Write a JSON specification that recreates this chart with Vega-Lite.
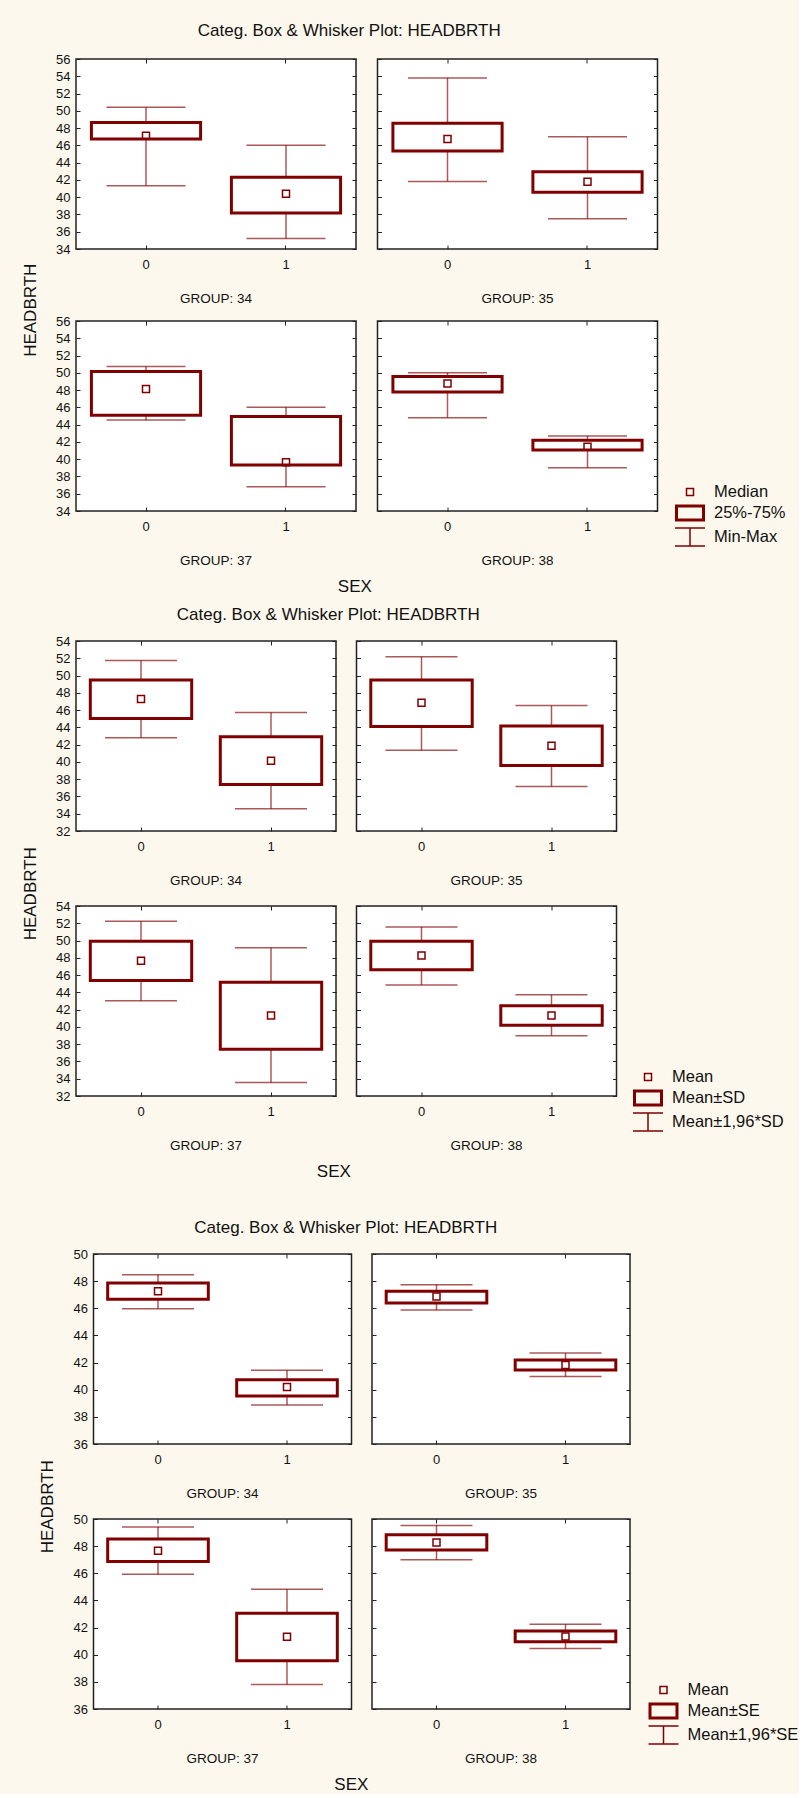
{
"$schema": "https://vega.github.io/schema/vega-lite/v6.json",
"background": "#fdf8ed",
"padding": {"left": 21, "top": 22, "right": 0, "bottom": 0},
"datasets": {
"minmax": [
{"GROUP": 34, "SEX": "0", "center": 47.1, "boxLow": 46.73, "boxHigh": 48.66, "low": 41.33, "high": 50.4},
{"GROUP": 34, "SEX": "1", "center": 40.4, "boxLow": 38.16, "boxHigh": 42.3, "low": 35.23, "high": 46.0},
{"GROUP": 35, "SEX": "0", "center": 46.73, "boxLow": 45.34, "boxHigh": 48.55, "low": 41.83, "high": 53.8},
{"GROUP": 35, "SEX": "1", "center": 41.8, "boxLow": 40.56, "boxHigh": 42.95, "low": 37.5, "high": 47.0},
{"GROUP": 37, "SEX": "0", "center": 48.12, "boxLow": 45.08, "boxHigh": 50.14, "low": 44.54, "high": 50.72},
{"GROUP": 37, "SEX": "1", "center": 39.64, "boxLow": 39.33, "boxHigh": 44.93, "low": 36.82, "high": 46.0},
{"GROUP": 38, "SEX": "0", "center": 48.75, "boxLow": 47.78, "boxHigh": 49.56, "low": 44.81, "high": 50.02},
{"GROUP": 38, "SEX": "1", "center": 41.45, "boxLow": 41.07, "boxHigh": 42.19, "low": 39.02, "high": 42.69}
],
"sd": [
{"GROUP": 34, "SEX": "0", "center": 47.27, "boxLow": 45.02, "boxHigh": 49.49, "low": 42.79, "high": 51.73},
{"GROUP": 34, "SEX": "1", "center": 40.13, "boxLow": 37.39, "boxHigh": 42.9, "low": 34.58, "high": 45.71},
{"GROUP": 35, "SEX": "0", "center": 46.85, "boxLow": 44.1, "boxHigh": 49.49, "low": 41.36, "high": 52.19},
{"GROUP": 35, "SEX": "1", "center": 41.88, "boxLow": 39.59, "boxHigh": 44.17, "low": 37.16, "high": 46.52},
{"GROUP": 37, "SEX": "0", "center": 47.67, "boxLow": 45.36, "boxHigh": 49.93, "low": 43.02, "high": 52.23},
{"GROUP": 37, "SEX": "1", "center": 41.33, "boxLow": 37.42, "boxHigh": 45.17, "low": 33.57, "high": 49.16},
{"GROUP": 38, "SEX": "0", "center": 48.28, "boxLow": 46.63, "boxHigh": 49.93, "low": 44.86, "high": 51.58},
{"GROUP": 38, "SEX": "1", "center": 41.33, "boxLow": 40.18, "boxHigh": 42.45, "low": 38.99, "high": 43.71}
],
"se": [
{"GROUP": 34, "SEX": "0", "center": 47.25, "boxLow": 46.66, "boxHigh": 47.86, "low": 45.97, "high": 48.48},
{"GROUP": 34, "SEX": "1", "center": 40.2, "boxLow": 39.54, "boxHigh": 40.74, "low": 38.87, "high": 41.43},
{"GROUP": 35, "SEX": "0", "center": 46.86, "boxLow": 46.39, "boxHigh": 47.25, "low": 45.87, "high": 47.74},
{"GROUP": 35, "SEX": "1", "center": 41.82, "boxLow": 41.45, "boxHigh": 42.19, "low": 40.98, "high": 42.7},
{"GROUP": 37, "SEX": "0", "center": 47.66, "boxLow": 46.87, "boxHigh": 48.52, "low": 45.93, "high": 49.41},
{"GROUP": 37, "SEX": "1", "center": 41.32, "boxLow": 39.55, "boxHigh": 43.05, "low": 37.8, "high": 44.82},
{"GROUP": 38, "SEX": "0", "center": 48.27, "boxLow": 47.71, "boxHigh": 48.84, "low": 46.99, "high": 49.53},
{"GROUP": 38, "SEX": "1", "center": 41.35, "boxLow": 40.96, "boxHigh": 41.74, "low": 40.46, "high": 42.24}
]
},
"config": {
"font": "Liberation Sans",
"view": {"fill": "white", "stroke": "#222", "strokeWidth": 1.5},
"axis": {"domain": false, "grid": false, "tickSize": -4, "tickColor": "#222", "tickWidth": 1, "labelFont": "Liberation Sans", "labelFontSize": 13, "labelColor": "#111"},
"axisLeft": {"labelPadding": 10, "grid": true, "gridColor": "#c4c4c4", "gridDash": [3, 2], "gridWidth": 1},
"axisRight": {"labels": false, "grid": false},
"axisTop": {"labels": false},
"axisBottom": {"labelPadding": 13, "labelAngle": 0},
"title": {"font": "Liberation Sans", "fontWeight": "normal", "color": "#111", "fontSize": 13.5, "orient": "bottom", "offset": 21},
"rule": {"stroke": "#800000", "strokeWidth": 1.5, "opacity": 0.65},
"tick": {"color": "#800000", "thickness": 1.5, "opacity": 0.65},
"bar": {"fill": "white", "stroke": "#800000", "strokeWidth": 3},
"point": {"shape": "M-0.35,-0.35H0.35V0.35H-0.35Z", "size": 400, "filled": false, "stroke": "#800000", "strokeWidth": 1.5, "opacity": 1},
"legend": {"labelFont": "Liberation Sans", "labelFontSize": 16.5, "labelColor": "#111", "symbolSize": 400, "labelOffset": 13, "rowPadding": 1, "padding": 0, "symbolStrokeColor": "#800000", "symbolStrokeWidth": 1.5, "symbolOpacity": 1}
},
"resolve": {"scale": {"shape": "independent"}, "legend": {"shape": "independent"}},
"columns": 1,
"align": "none",
"spacing": 38,
"concat": [
{
"spacing": 10,
"resolve": {"scale": {"shape": "independent"}, "legend": {"shape": "independent"}},
"vconcat": [
{
"title": {"text": "Categ. Box & Whisker Plot: HEADBRTH", "orient": "top", "anchor": "start", "dx": 176, "fontSize": 17, "offset": 12},
"resolve": {"scale": {"shape": "independent"}, "legend": {"shape": "independent"}},
"vconcat": [{
"title": {"text": "SEX", "orient": "bottom", "anchor": "start", "dx": 316, "fontSize": 17, "offset": 11},
"resolve": {"scale": {"shape": "independent"}, "legend": {"shape": "independent"}},
"vconcat": [{
"title": {"text": "HEADBRTH", "orient": "left", "anchor": "middle", "fontSize": 17, "offset": 15},
"resolve": {"scale": {"shape": "independent"}, "legend": {"shape": "independent"}},
"spacing": 7,
"vconcat": [
{"spacing": 17.5, "resolve": {"scale": {"shape": "independent"}, "legend": {"shape": "independent"}}, "hconcat": [
{"width": 280, "height": 190, "data": {"name": "minmax"}, "transform": [{"filter": "datum.GROUP == 34"}], "title": "GROUP: 34", "layer": [
{"mark": "rule", "encoding": {"x": {"field": "SEX", "type": "nominal", "scale": {"domain": ["0", "1"], "paddingInner": 0.22, "paddingOuter": 0.11}, "axis": {"orient": "top", "title": null}}, "y": {"field": "low", "type": "quantitative", "scale": {"domain": [34, 56], "nice": false, "zero": false}, "axis": {"orient": "right", "title": null, "values": [34,36,38,40,42,44,46,48,50,52,54,56]}}, "y2": {"field": "high"}}},
{"mark": {"type": "tick", "size": 79}, "encoding": {"x": {"field": "SEX", "type": "nominal", "axis": null}, "y": {"field": "low", "type": "quantitative", "axis": null}}},
{"mark": {"type": "tick", "size": 79}, "encoding": {"x": {"field": "SEX", "type": "nominal", "axis": null}, "y": {"field": "high", "type": "quantitative", "axis": null}}},
{"mark": "bar", "encoding": {"x": {"field": "SEX", "type": "nominal", "scale": {"domain": ["0", "1"], "paddingInner": 0.22, "paddingOuter": 0.11}, "axis": {"orient": "bottom", "title": null}}, "y": {"field": "boxLow", "type": "quantitative", "axis": {"orient": "left", "title": null, "values": [34,36,38,40,42,44,46,48,50,52,54,56], "labels": true}}, "y2": {"field": "boxHigh"}}},
{"mark": "point", "encoding": {"x": {"field": "SEX", "type": "nominal", "axis": null}, "y": {"field": "center", "type": "quantitative", "axis": null}}}
], "resolve": {"axis": {"x": "independent", "y": "independent"}}},
{"width": 280, "height": 190, "data": {"name": "minmax"}, "transform": [{"filter": "datum.GROUP == 35"}], "title": "GROUP: 35", "layer": [
{"mark": "rule", "encoding": {"x": {"field": "SEX", "type": "nominal", "scale": {"domain": ["0", "1"], "paddingInner": 0.22, "paddingOuter": 0.11}, "axis": {"orient": "top", "title": null}}, "y": {"field": "low", "type": "quantitative", "scale": {"domain": [34, 56], "nice": false, "zero": false}, "axis": {"orient": "right", "title": null, "values": [34,36,38,40,42,44,46,48,50,52,54,56]}}, "y2": {"field": "high"}}},
{"mark": {"type": "tick", "size": 79}, "encoding": {"x": {"field": "SEX", "type": "nominal", "axis": null}, "y": {"field": "low", "type": "quantitative", "axis": null}}},
{"mark": {"type": "tick", "size": 79}, "encoding": {"x": {"field": "SEX", "type": "nominal", "axis": null}, "y": {"field": "high", "type": "quantitative", "axis": null}}},
{"mark": "bar", "encoding": {"x": {"field": "SEX", "type": "nominal", "scale": {"domain": ["0", "1"], "paddingInner": 0.22, "paddingOuter": 0.11}, "axis": {"orient": "bottom", "title": null}}, "y": {"field": "boxLow", "type": "quantitative", "axis": {"orient": "left", "title": null, "values": [34,36,38,40,42,44,46,48,50,52,54,56], "labels": false}}, "y2": {"field": "boxHigh"}}},
{"mark": "point", "encoding": {"x": {"field": "SEX", "type": "nominal", "axis": null}, "y": {"field": "center", "type": "quantitative", "axis": null}}}
], "resolve": {"axis": {"x": "independent", "y": "independent"}}}
]},
{"spacing": 17.5, "hconcat": [
{"width": 280, "height": 190, "data": {"name": "minmax"}, "transform": [{"filter": "datum.GROUP == 37"}], "title": "GROUP: 37", "layer": [
{"mark": "rule", "encoding": {"x": {"field": "SEX", "type": "nominal", "scale": {"domain": ["0", "1"], "paddingInner": 0.22, "paddingOuter": 0.11}, "axis": {"orient": "top", "title": null}}, "y": {"field": "low", "type": "quantitative", "scale": {"domain": [34, 56], "nice": false, "zero": false}, "axis": {"orient": "right", "title": null, "values": [34,36,38,40,42,44,46,48,50,52,54,56]}}, "y2": {"field": "high"}}},
{"mark": {"type": "tick", "size": 79}, "encoding": {"x": {"field": "SEX", "type": "nominal", "axis": null}, "y": {"field": "low", "type": "quantitative", "axis": null}}},
{"mark": {"type": "tick", "size": 79}, "encoding": {"x": {"field": "SEX", "type": "nominal", "axis": null}, "y": {"field": "high", "type": "quantitative", "axis": null}}},
{"mark": "bar", "encoding": {"x": {"field": "SEX", "type": "nominal", "scale": {"domain": ["0", "1"], "paddingInner": 0.22, "paddingOuter": 0.11}, "axis": {"orient": "bottom", "title": null}}, "y": {"field": "boxLow", "type": "quantitative", "axis": {"orient": "left", "title": null, "values": [34,36,38,40,42,44,46,48,50,52,54,56], "labels": true}}, "y2": {"field": "boxHigh"}}},
{"mark": "point", "encoding": {"x": {"field": "SEX", "type": "nominal", "axis": null}, "y": {"field": "center", "type": "quantitative", "axis": null}}}
], "resolve": {"axis": {"x": "independent", "y": "independent"}}},
{"width": 280, "height": 190, "data": {"name": "minmax"}, "transform": [{"filter": "datum.GROUP == 38"}], "title": "GROUP: 38", "layer": [
{"mark": "rule", "encoding": {"x": {"field": "SEX", "type": "nominal", "scale": {"domain": ["0", "1"], "paddingInner": 0.22, "paddingOuter": 0.11}, "axis": {"orient": "top", "title": null}}, "y": {"field": "low", "type": "quantitative", "scale": {"domain": [34, 56], "nice": false, "zero": false}, "axis": {"orient": "right", "title": null, "values": [34,36,38,40,42,44,46,48,50,52,54,56]}}, "y2": {"field": "high"}}},
{"mark": {"type": "tick", "size": 79}, "encoding": {"x": {"field": "SEX", "type": "nominal", "axis": null}, "y": {"field": "low", "type": "quantitative", "axis": null}}},
{"mark": {"type": "tick", "size": 79}, "encoding": {"x": {"field": "SEX", "type": "nominal", "axis": null}, "y": {"field": "high", "type": "quantitative", "axis": null}}},
{"mark": "bar", "encoding": {"x": {"field": "SEX", "type": "nominal", "scale": {"domain": ["0", "1"], "paddingInner": 0.22, "paddingOuter": 0.11}, "axis": {"orient": "bottom", "title": null}}, "y": {"field": "boxLow", "type": "quantitative", "axis": {"orient": "left", "title": null, "values": [34,36,38,40,42,44,46,48,50,52,54,56], "labels": false}}, "y2": {"field": "boxHigh"}}},
{"mark": "point", "encoding": {"x": {"field": "SEX", "type": "nominal", "axis": null}, "y": {"field": "center", "type": "quantitative", "axis": null}, "shape": {"datum": "Median", "scale": {"domain": ["Median", "25%-75%", "Min-Max"], "range": ["M-0.35,-0.35H0.35V0.35H-0.35Z", "M-1.425,-0.775H1.425V0.775H-1.425ZM-1.375,-0.725H1.375V0.725H-1.375ZM-1.325,-0.675H1.325V0.675H-1.325ZM-1.275,-0.625H1.275V0.625H-1.275Z", "M-1.5,-0.9H1.5M0,-0.9V0.9M-1.5,0.9H1.5"]}, "legend": {"title": null, "orient": "none", "legendX": 603, "legendY": 160}}}}
], "resolve": {"axis": {"x": "independent", "y": "independent"}}}
]}
]
}]
}]
},
{
"title": {"text": "Categ. Box & Whisker Plot: HEADBRTH", "orient": "top", "anchor": "start", "dx": 155, "fontSize": 17, "offset": 10},
"resolve": {"scale": {"shape": "independent"}, "legend": {"shape": "independent"}},
"vconcat": [{
"title": {"text": "SEX", "orient": "bottom", "anchor": "start", "dx": 295, "fontSize": 17, "offset": 11},
"resolve": {"scale": {"shape": "independent"}, "legend": {"shape": "independent"}},
"vconcat": [{
"title": {"text": "HEADBRTH", "orient": "left", "anchor": "middle", "fontSize": 17, "offset": 15},
"resolve": {"scale": {"shape": "independent"}, "legend": {"shape": "independent"}},
"spacing": 10,
"vconcat": [
{"spacing": 16.5, "resolve": {"scale": {"shape": "independent"}, "legend": {"shape": "independent"}}, "hconcat": [
{"width": 260, "height": 190, "data": {"name": "sd"}, "transform": [{"filter": "datum.GROUP == 34"}], "title": "GROUP: 34", "layer": [
{"mark": "rule", "encoding": {"x": {"field": "SEX", "type": "nominal", "scale": {"domain": ["0", "1"], "paddingInner": 0.22, "paddingOuter": 0.11}, "axis": {"orient": "top", "title": null}}, "y": {"field": "low", "type": "quantitative", "scale": {"domain": [32, 54], "nice": false, "zero": false}, "axis": {"orient": "right", "title": null, "values": [32,34,36,38,40,42,44,46,48,50,52,54]}}, "y2": {"field": "high"}}},
{"mark": {"type": "tick", "size": 72}, "encoding": {"x": {"field": "SEX", "type": "nominal", "axis": null}, "y": {"field": "low", "type": "quantitative", "axis": null}}},
{"mark": {"type": "tick", "size": 72}, "encoding": {"x": {"field": "SEX", "type": "nominal", "axis": null}, "y": {"field": "high", "type": "quantitative", "axis": null}}},
{"mark": "bar", "encoding": {"x": {"field": "SEX", "type": "nominal", "scale": {"domain": ["0", "1"], "paddingInner": 0.22, "paddingOuter": 0.11}, "axis": {"orient": "bottom", "title": null}}, "y": {"field": "boxLow", "type": "quantitative", "axis": {"orient": "left", "title": null, "values": [32,34,36,38,40,42,44,46,48,50,52,54], "labels": true}}, "y2": {"field": "boxHigh"}}},
{"mark": "point", "encoding": {"x": {"field": "SEX", "type": "nominal", "axis": null}, "y": {"field": "center", "type": "quantitative", "axis": null}}}
], "resolve": {"axis": {"x": "independent", "y": "independent"}}},
{"width": 260, "height": 190, "data": {"name": "sd"}, "transform": [{"filter": "datum.GROUP == 35"}], "title": "GROUP: 35", "layer": [
{"mark": "rule", "encoding": {"x": {"field": "SEX", "type": "nominal", "scale": {"domain": ["0", "1"], "paddingInner": 0.22, "paddingOuter": 0.11}, "axis": {"orient": "top", "title": null}}, "y": {"field": "low", "type": "quantitative", "scale": {"domain": [32, 54], "nice": false, "zero": false}, "axis": {"orient": "right", "title": null, "values": [32,34,36,38,40,42,44,46,48,50,52,54]}}, "y2": {"field": "high"}}},
{"mark": {"type": "tick", "size": 72}, "encoding": {"x": {"field": "SEX", "type": "nominal", "axis": null}, "y": {"field": "low", "type": "quantitative", "axis": null}}},
{"mark": {"type": "tick", "size": 72}, "encoding": {"x": {"field": "SEX", "type": "nominal", "axis": null}, "y": {"field": "high", "type": "quantitative", "axis": null}}},
{"mark": "bar", "encoding": {"x": {"field": "SEX", "type": "nominal", "scale": {"domain": ["0", "1"], "paddingInner": 0.22, "paddingOuter": 0.11}, "axis": {"orient": "bottom", "title": null}}, "y": {"field": "boxLow", "type": "quantitative", "axis": {"orient": "left", "title": null, "values": [32,34,36,38,40,42,44,46,48,50,52,54], "labels": false}}, "y2": {"field": "boxHigh"}}},
{"mark": "point", "encoding": {"x": {"field": "SEX", "type": "nominal", "axis": null}, "y": {"field": "center", "type": "quantitative", "axis": null}}}
], "resolve": {"axis": {"x": "independent", "y": "independent"}}}
]},
{"spacing": 16.5, "hconcat": [
{"width": 260, "height": 190, "data": {"name": "sd"}, "transform": [{"filter": "datum.GROUP == 37"}], "title": "GROUP: 37", "layer": [
{"mark": "rule", "encoding": {"x": {"field": "SEX", "type": "nominal", "scale": {"domain": ["0", "1"], "paddingInner": 0.22, "paddingOuter": 0.11}, "axis": {"orient": "top", "title": null}}, "y": {"field": "low", "type": "quantitative", "scale": {"domain": [32, 54], "nice": false, "zero": false}, "axis": {"orient": "right", "title": null, "values": [32,34,36,38,40,42,44,46,48,50,52,54]}}, "y2": {"field": "high"}}},
{"mark": {"type": "tick", "size": 72}, "encoding": {"x": {"field": "SEX", "type": "nominal", "axis": null}, "y": {"field": "low", "type": "quantitative", "axis": null}}},
{"mark": {"type": "tick", "size": 72}, "encoding": {"x": {"field": "SEX", "type": "nominal", "axis": null}, "y": {"field": "high", "type": "quantitative", "axis": null}}},
{"mark": "bar", "encoding": {"x": {"field": "SEX", "type": "nominal", "scale": {"domain": ["0", "1"], "paddingInner": 0.22, "paddingOuter": 0.11}, "axis": {"orient": "bottom", "title": null}}, "y": {"field": "boxLow", "type": "quantitative", "axis": {"orient": "left", "title": null, "values": [32,34,36,38,40,42,44,46,48,50,52,54], "labels": true}}, "y2": {"field": "boxHigh"}}},
{"mark": "point", "encoding": {"x": {"field": "SEX", "type": "nominal", "axis": null}, "y": {"field": "center", "type": "quantitative", "axis": null}}}
], "resolve": {"axis": {"x": "independent", "y": "independent"}}},
{"width": 260, "height": 190, "data": {"name": "sd"}, "transform": [{"filter": "datum.GROUP == 38"}], "title": "GROUP: 38", "layer": [
{"mark": "rule", "encoding": {"x": {"field": "SEX", "type": "nominal", "scale": {"domain": ["0", "1"], "paddingInner": 0.22, "paddingOuter": 0.11}, "axis": {"orient": "top", "title": null}}, "y": {"field": "low", "type": "quantitative", "scale": {"domain": [32, 54], "nice": false, "zero": false}, "axis": {"orient": "right", "title": null, "values": [32,34,36,38,40,42,44,46,48,50,52,54]}}, "y2": {"field": "high"}}},
{"mark": {"type": "tick", "size": 72}, "encoding": {"x": {"field": "SEX", "type": "nominal", "axis": null}, "y": {"field": "low", "type": "quantitative", "axis": null}}},
{"mark": {"type": "tick", "size": 72}, "encoding": {"x": {"field": "SEX", "type": "nominal", "axis": null}, "y": {"field": "high", "type": "quantitative", "axis": null}}},
{"mark": "bar", "encoding": {"x": {"field": "SEX", "type": "nominal", "scale": {"domain": ["0", "1"], "paddingInner": 0.22, "paddingOuter": 0.11}, "axis": {"orient": "bottom", "title": null}}, "y": {"field": "boxLow", "type": "quantitative", "axis": {"orient": "left", "title": null, "values": [32,34,36,38,40,42,44,46,48,50,52,54], "labels": false}}, "y2": {"field": "boxHigh"}}},
{"mark": "point", "encoding": {"x": {"field": "SEX", "type": "nominal", "axis": null}, "y": {"field": "center", "type": "quantitative", "axis": null}, "shape": {"datum": "Mean", "scale": {"domain": ["Mean", "Mean±SD", "Mean±1,96*SD"], "range": ["M-0.35,-0.35H0.35V0.35H-0.35Z", "M-1.425,-0.775H1.425V0.775H-1.425ZM-1.375,-0.725H1.375V0.725H-1.375ZM-1.325,-0.675H1.325V0.675H-1.325ZM-1.275,-0.625H1.275V0.625H-1.275Z", "M-1.5,-0.9H1.5M0,-0.9V0.9M-1.5,0.9H1.5"]}, "legend": {"title": null, "orient": "none", "legendX": 561, "legendY": 160}}}}
], "resolve": {"axis": {"x": "independent", "y": "independent"}}}
]}
]
}]
}]
}
]
},
{
"columns": 2,
"align": "none",
"spacing": -38.5,
"resolve": {"scale": {"shape": "independent"}, "legend": {"shape": "independent"}},
"concat": [
{"width": 1, "height": 1, "data": {"values": []}, "mark": "point", "encoding": {}, "view": {"stroke": null, "fill": null}},
{
"title": {"text": "Categ. Box & Whisker Plot: HEADBRTH", "orient": "top", "anchor": "start", "dx": 155, "fontSize": 17, "offset": 10},
"resolve": {"scale": {"shape": "independent"}, "legend": {"shape": "independent"}},
"vconcat": [{
"title": {"text": "SEX", "orient": "bottom", "anchor": "start", "dx": 295, "fontSize": 17, "offset": 11},
"resolve": {"scale": {"shape": "independent"}, "legend": {"shape": "independent"}},
"vconcat": [{
"title": {"text": "HEADBRTH", "orient": "left", "anchor": "middle", "fontSize": 17, "offset": 15},
"resolve": {"scale": {"shape": "independent"}, "legend": {"shape": "independent"}},
"spacing": 10,
"vconcat": [
{"spacing": 16.5, "resolve": {"scale": {"shape": "independent"}, "legend": {"shape": "independent"}}, "hconcat": [
{"width": 258, "height": 190, "data": {"name": "se"}, "transform": [{"filter": "datum.GROUP == 34"}], "title": "GROUP: 34", "layer": [
{"mark": "rule", "encoding": {"x": {"field": "SEX", "type": "nominal", "scale": {"domain": ["0", "1"], "paddingInner": 0.22, "paddingOuter": 0.11}, "axis": {"orient": "top", "title": null}}, "y": {"field": "low", "type": "quantitative", "scale": {"domain": [36, 50], "nice": false, "zero": false}, "axis": {"orient": "right", "title": null, "values": [36,38,40,42,44,46,48,50]}}, "y2": {"field": "high"}}},
{"mark": {"type": "tick", "size": 72}, "encoding": {"x": {"field": "SEX", "type": "nominal", "axis": null}, "y": {"field": "low", "type": "quantitative", "axis": null}}},
{"mark": {"type": "tick", "size": 72}, "encoding": {"x": {"field": "SEX", "type": "nominal", "axis": null}, "y": {"field": "high", "type": "quantitative", "axis": null}}},
{"mark": "bar", "encoding": {"x": {"field": "SEX", "type": "nominal", "scale": {"domain": ["0", "1"], "paddingInner": 0.22, "paddingOuter": 0.11}, "axis": {"orient": "bottom", "title": null}}, "y": {"field": "boxLow", "type": "quantitative", "axis": {"orient": "left", "title": null, "values": [36,38,40,42,44,46,48,50], "labels": true}}, "y2": {"field": "boxHigh"}}},
{"mark": "point", "encoding": {"x": {"field": "SEX", "type": "nominal", "axis": null}, "y": {"field": "center", "type": "quantitative", "axis": null}}}
], "resolve": {"axis": {"x": "independent", "y": "independent"}}},
{"width": 258, "height": 190, "data": {"name": "se"}, "transform": [{"filter": "datum.GROUP == 35"}], "title": "GROUP: 35", "layer": [
{"mark": "rule", "encoding": {"x": {"field": "SEX", "type": "nominal", "scale": {"domain": ["0", "1"], "paddingInner": 0.22, "paddingOuter": 0.11}, "axis": {"orient": "top", "title": null}}, "y": {"field": "low", "type": "quantitative", "scale": {"domain": [36, 50], "nice": false, "zero": false}, "axis": {"orient": "right", "title": null, "values": [36,38,40,42,44,46,48,50]}}, "y2": {"field": "high"}}},
{"mark": {"type": "tick", "size": 72}, "encoding": {"x": {"field": "SEX", "type": "nominal", "axis": null}, "y": {"field": "low", "type": "quantitative", "axis": null}}},
{"mark": {"type": "tick", "size": 72}, "encoding": {"x": {"field": "SEX", "type": "nominal", "axis": null}, "y": {"field": "high", "type": "quantitative", "axis": null}}},
{"mark": "bar", "encoding": {"x": {"field": "SEX", "type": "nominal", "scale": {"domain": ["0", "1"], "paddingInner": 0.22, "paddingOuter": 0.11}, "axis": {"orient": "bottom", "title": null}}, "y": {"field": "boxLow", "type": "quantitative", "axis": {"orient": "left", "title": null, "values": [36,38,40,42,44,46,48,50], "labels": false}}, "y2": {"field": "boxHigh"}}},
{"mark": "point", "encoding": {"x": {"field": "SEX", "type": "nominal", "axis": null}, "y": {"field": "center", "type": "quantitative", "axis": null}}}
], "resolve": {"axis": {"x": "independent", "y": "independent"}}}
]},
{"spacing": 16.5, "hconcat": [
{"width": 258, "height": 190, "data": {"name": "se"}, "transform": [{"filter": "datum.GROUP == 37"}], "title": "GROUP: 37", "layer": [
{"mark": "rule", "encoding": {"x": {"field": "SEX", "type": "nominal", "scale": {"domain": ["0", "1"], "paddingInner": 0.22, "paddingOuter": 0.11}, "axis": {"orient": "top", "title": null}}, "y": {"field": "low", "type": "quantitative", "scale": {"domain": [36, 50], "nice": false, "zero": false}, "axis": {"orient": "right", "title": null, "values": [36,38,40,42,44,46,48,50]}}, "y2": {"field": "high"}}},
{"mark": {"type": "tick", "size": 72}, "encoding": {"x": {"field": "SEX", "type": "nominal", "axis": null}, "y": {"field": "low", "type": "quantitative", "axis": null}}},
{"mark": {"type": "tick", "size": 72}, "encoding": {"x": {"field": "SEX", "type": "nominal", "axis": null}, "y": {"field": "high", "type": "quantitative", "axis": null}}},
{"mark": "bar", "encoding": {"x": {"field": "SEX", "type": "nominal", "scale": {"domain": ["0", "1"], "paddingInner": 0.22, "paddingOuter": 0.11}, "axis": {"orient": "bottom", "title": null}}, "y": {"field": "boxLow", "type": "quantitative", "axis": {"orient": "left", "title": null, "values": [36,38,40,42,44,46,48,50], "labels": true}}, "y2": {"field": "boxHigh"}}},
{"mark": "point", "encoding": {"x": {"field": "SEX", "type": "nominal", "axis": null}, "y": {"field": "center", "type": "quantitative", "axis": null}}}
], "resolve": {"axis": {"x": "independent", "y": "independent"}}},
{"width": 258, "height": 190, "data": {"name": "se"}, "transform": [{"filter": "datum.GROUP == 38"}], "title": "GROUP: 38", "layer": [
{"mark": "rule", "encoding": {"x": {"field": "SEX", "type": "nominal", "scale": {"domain": ["0", "1"], "paddingInner": 0.22, "paddingOuter": 0.11}, "axis": {"orient": "top", "title": null}}, "y": {"field": "low", "type": "quantitative", "scale": {"domain": [36, 50], "nice": false, "zero": false}, "axis": {"orient": "right", "title": null, "values": [36,38,40,42,44,46,48,50]}}, "y2": {"field": "high"}}},
{"mark": {"type": "tick", "size": 72}, "encoding": {"x": {"field": "SEX", "type": "nominal", "axis": null}, "y": {"field": "low", "type": "quantitative", "axis": null}}},
{"mark": {"type": "tick", "size": 72}, "encoding": {"x": {"field": "SEX", "type": "nominal", "axis": null}, "y": {"field": "high", "type": "quantitative", "axis": null}}},
{"mark": "bar", "encoding": {"x": {"field": "SEX", "type": "nominal", "scale": {"domain": ["0", "1"], "paddingInner": 0.22, "paddingOuter": 0.11}, "axis": {"orient": "bottom", "title": null}}, "y": {"field": "boxLow", "type": "quantitative", "axis": {"orient": "left", "title": null, "values": [36,38,40,42,44,46,48,50], "labels": false}}, "y2": {"field": "boxHigh"}}},
{"mark": "point", "encoding": {"x": {"field": "SEX", "type": "nominal", "axis": null}, "y": {"field": "center", "type": "quantitative", "axis": null}, "shape": {"datum": "Mean", "scale": {"domain": ["Mean", "Mean±SE", "Mean±1,96*SE"], "range": ["M-0.35,-0.35H0.35V0.35H-0.35Z", "M-1.425,-0.775H1.425V0.775H-1.425ZM-1.375,-0.725H1.375V0.725H-1.375ZM-1.325,-0.675H1.325V0.675H-1.325ZM-1.275,-0.625H1.275V0.625H-1.275Z", "M-1.5,-0.9H1.5M0,-0.9V0.9M-1.5,0.9H1.5"]}, "legend": {"title": null, "orient": "none", "legendX": 559, "legendY": 160}}}}
], "resolve": {"axis": {"x": "independent", "y": "independent"}}}
]}
]
}]
}]
}
]
}
]
}
